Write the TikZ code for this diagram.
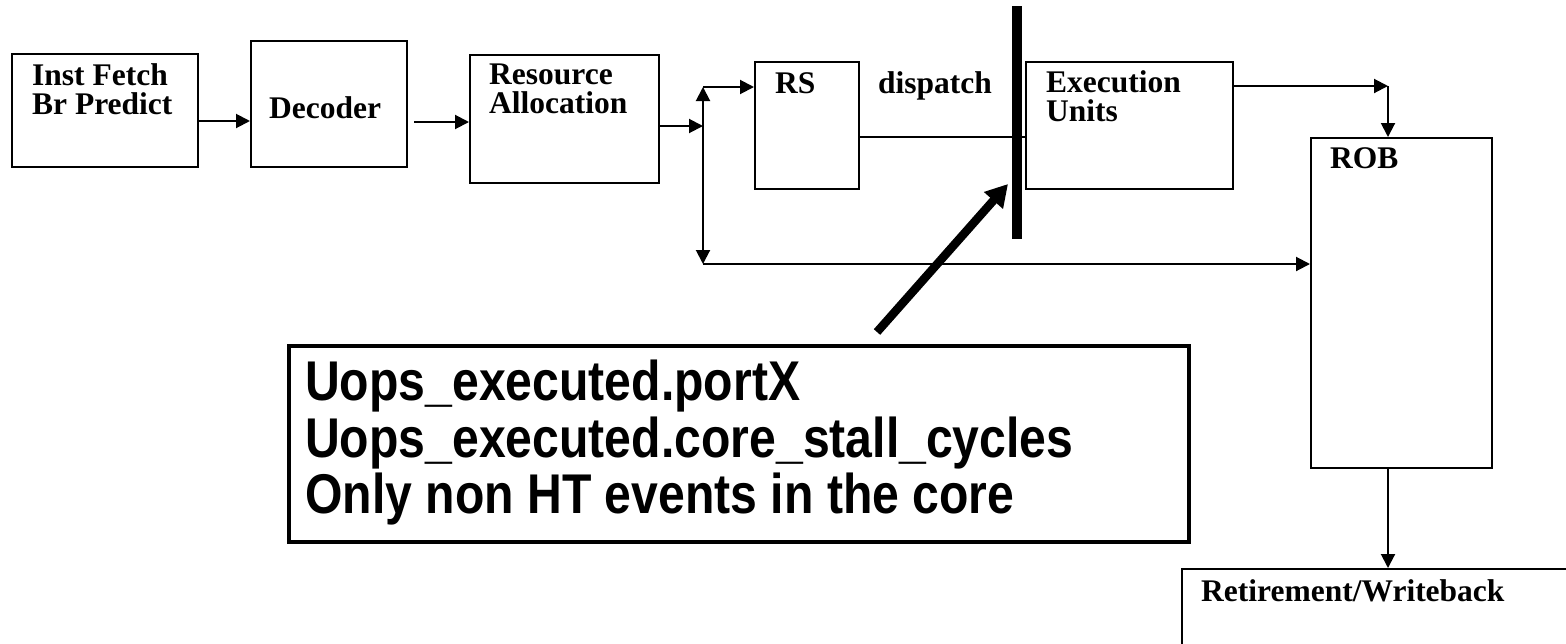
\documentclass[tikz,border=0pt]{standalone}
\usepackage{fontspec}
\setmainfont{Liberation Serif}
\newfontfamily\sansfam{Liberation Sans}
\usetikzlibrary{arrows.meta}
\begin{document}
\begin{tikzpicture}[x=1pt,y=-1pt,
  box/.style={draw, line width=2pt, inner sep=0pt, anchor=north west},
  lbl/.style={anchor=base west, inner sep=0pt, font=\fontsize{31.5}{29}\selectfont\bfseries},
  lbl2/.style={anchor=north west, inner sep=0pt, align=left, font=\fontsize{31.5}{29}\selectfont\bfseries},
  biglbl/.style={anchor=north west, inner sep=0pt, align=left, font=\fontsize{56}{56.5}\sansfam\bfseries},
  arr/.style={line width=2pt, -{Triangle[length=14pt,width=14pt]}},
  conn/.style={line width=2pt},
  bigarr/.style={line width=8.5pt, -{Triangle[length=22pt,width=24pt]}}]
\useasboundingbox (0,0) rectangle (1566,643);
\clip (0,0) rectangle (1566,643);
\fill[white] (0,0) rectangle (1566,643);
% boxes
\node[box, minimum width=186pt, minimum height=113pt] (fetch) at (11,53) {};
\node[box, minimum width=156pt, minimum height=126pt] (decoder) at (250,40) {};
\node[box, minimum width=189pt, minimum height=128pt] (ra) at (469,54) {};
\node[box, minimum width=104pt, minimum height=127pt] (rs) at (754,61) {};
\node[box, minimum width=207pt, minimum height=127pt] (exec) at (1025,61) {};
\node[box, minimum width=181pt, minimum height=330pt] (rob) at (1310,137) {};
\node[box, minimum width=500pt, minimum height=200pt] (ret) at (1181,568) {};
\node[box, line width=3.5pt, minimum width=900pt, minimum height=196pt] (tbox) at (287,344) {};
\node[fill, inner sep=0pt, anchor=north west, minimum width=10pt, minimum height=233pt] (bar) at (1012,6) {};
% labels
\node[lbl2] (fetchl) at (32,63.5) {Inst Fetch\\Br Predict};
\node[lbl] (decl) at (269,118) {Decoder};
\node[lbl2] (ral) at (489,63.5) {Resource\\Allocation};
\node[lbl] (rsl) at (775,93) {RS};
\node[lbl] (disp) at (878,93) {dispatch};
\node[lbl2] (exl) at (1046,70.5) {Execution\\Units};
\node[lbl] (robl) at (1330,168) {ROB};
\node[lbl] (retl) at (1201,601) {Retirement/Writeback};
\node[biglbl] (tl) at (305,360) {\scalebox{0.86}[1]{Uops\_executed.portX}\\
  \scalebox{0.86}[1]{Uops\_executed.core\_stall\_cycles}\\
  \scalebox{0.86}[1]{Only non HT events in the core}};
% helper coordinates
\coordinate (a1) at (0,121);
\coordinate (a2) at (414,122);
\coordinate (j) at (703,126);
\coordinate (jt) at (703,87);
\coordinate (jb) at (703,264);
\coordinate (d) at (0,137);
\coordinate (e) at (1388,86);
\coordinate (p1) at (877,332);
\coordinate (p2) at (1008,184);
% connectors
\draw[arr] (fetch.east |- a1) -- (decoder.west |- a1);
\draw[arr] (a2) -- (a2 -| ra.west);
\draw[arr] (ra.east |- j) -- (j);
\draw[arr] (j) -- (jt);
\draw[arr] (j) -- (jb);
\draw[arr] (jt) -- (jt -| rs.west);
\draw[arr] (jb) -- (jb -| rob.west);
\draw[conn] (rs.east |- d) -- (exec.west |- d);
\draw[arr] (exec.east |- e) -- (e);
\draw[arr] (e) -- (e |- rob.north);
\draw[arr] (e |- rob.south) -- (e |- ret.north);
\draw[bigarr] (p1) -- (p2);
\end{tikzpicture}
\end{document}
